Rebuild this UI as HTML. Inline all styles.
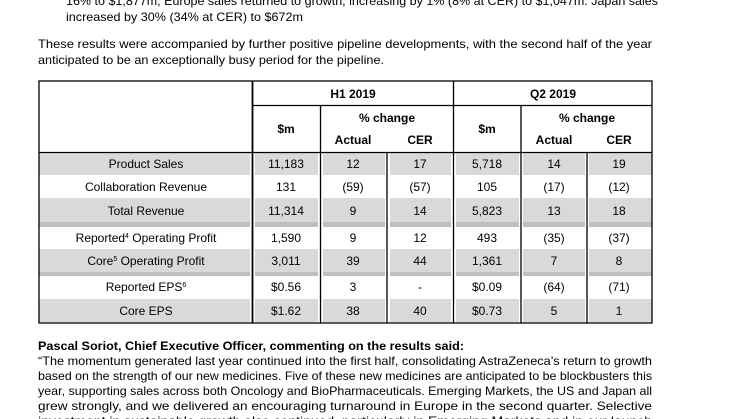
<!DOCTYPE html>
<html><head><meta charset="utf-8"><style>
html,body{margin:0;padding:0;background:#fff;}
svg{display:block;font-family:"Liberation Sans",Arial,sans-serif;}
</style></head><body>
<svg width="746" height="419" viewBox="0 0 746 419" xmlns="http://www.w3.org/2000/svg">
<g font-size="12" fill="#000">
<text x="66" y="5" textLength="592" lengthAdjust="spacingAndGlyphs">16% to $1,877m; Europe sales returned to growth, increasing by 1% (8% at CER) to $1,047m. Japan sales</text>
<text x="66" y="21" textLength="237" lengthAdjust="spacingAndGlyphs">increased by 30% (34% at CER) to $672m</text>
<text x="38" y="48" textLength="614" lengthAdjust="spacingAndGlyphs">These results were accompanied by further positive pipeline developments, with the second half of the year</text>
<text x="38" y="64" textLength="346" lengthAdjust="spacingAndGlyphs">anticipated to be an exceptionally busy period for the pipeline.</text>
<text x="38" y="350" font-weight="bold" textLength="426" lengthAdjust="spacingAndGlyphs">Pascal Soriot, Chief Executive Officer, commenting on the results said:</text>
<text x="38" y="365" textLength="614" lengthAdjust="spacingAndGlyphs">“The momentum generated last year continued into the first half, consolidating AstraZeneca’s return to growth</text>
<text x="38" y="380" textLength="614" lengthAdjust="spacingAndGlyphs">based on the strength of our new medicines. Five of these new medicines are anticipated to be blockbusters this</text>
<text x="38" y="395" textLength="614" lengthAdjust="spacingAndGlyphs">year, supporting sales across both Oncology and BioPharmaceuticals. Emerging Markets, the US and Japan all</text>
<text x="38" y="410" textLength="614" lengthAdjust="spacingAndGlyphs">grew strongly, and we delivered an encouraging turnaround in Europe in the second quarter. Selective</text>
<text x="38" y="425" textLength="614" lengthAdjust="spacingAndGlyphs">investment in sustainable growth also continued, particularly in Emerging Markets and in our launch</text>
</g>
<g fill="#d9d9d9">
<rect x="39" y="153" width="613" height="22"/>
<rect x="39" y="198" width="613" height="24"/>
<rect x="39" y="249" width="613" height="23"/>
<rect x="39" y="299" width="613" height="23"/>
</g>
<g fill="#bfbfbf">
<rect x="39" y="222" width="613" height="5"/>
<rect x="39" y="272" width="613" height="4"/>
</g>
<g fill="#fff">
<rect x="250" y="153" width="5" height="169"/>
<rect x="318" y="153" width="5" height="169"/>
<rect x="385" y="153" width="5" height="169"/>
<rect x="451" y="153" width="5" height="169"/>
<rect x="519" y="153" width="4" height="169"/>
<rect x="585" y="153" width="4" height="169"/>
</g>
<g stroke="#000" stroke-width="1.3" fill="none">
<rect x="39" y="81" width="613" height="242"/>
<line x1="39" y1="152.5" x2="652" y2="152.5"/>
<line x1="252.5" y1="105.5" x2="652" y2="105.5"/>
<line x1="252.5" y1="81" x2="252.5" y2="323" stroke-width="1.8"/>
<line x1="320.5" y1="105" x2="320.5" y2="323"/>
<line x1="387" y1="152" x2="387" y2="323"/>
<line x1="453.5" y1="81" x2="453.5" y2="323"/>
<line x1="521" y1="105" x2="521" y2="323"/>
<line x1="587" y1="152" x2="587" y2="323"/>
</g>
<g font-size="12" text-anchor="middle" fill="#000">
<g font-weight="bold">
<text x="353" y="98">H1 2019</text>
<text x="553" y="98">Q2 2019</text>
<text x="387" y="122">% change</text>
<text x="587" y="122">% change</text>
<text x="286" y="133">$m</text>
<text x="487" y="133">$m</text>
<text x="353" y="144">Actual</text>
<text x="420" y="144">CER</text>
<text x="554" y="144">Actual</text>
<text x="619" y="144">CER</text>
</g>
<g>
<text x="146" y="168">Product Sales</text><text x="286" y="168">11,183</text><text x="353" y="168">12</text><text x="420" y="168">17</text><text x="487" y="168">5,718</text><text x="554" y="168">14</text><text x="619" y="168">19</text>
<text x="146" y="191">Collaboration Revenue</text><text x="286" y="191">131</text><text x="353" y="191">(59)</text><text x="420" y="191">(57)</text><text x="487" y="191">105</text><text x="554" y="191">(17)</text><text x="619" y="191">(12)</text>
<text x="146" y="215">Total Revenue</text><text x="286" y="215">11,314</text><text x="353" y="215">9</text><text x="420" y="215">14</text><text x="487" y="215">5,823</text><text x="554" y="215">13</text><text x="619" y="215">18</text>
<text x="146" y="242">Reported<tspan font-size="7" dy="-4">4</tspan><tspan dy="4"> Operating Profit</tspan></text><text x="286" y="242">1,590</text><text x="353" y="242">9</text><text x="420" y="242">12</text><text x="487" y="242">493</text><text x="554" y="242">(35)</text><text x="619" y="242">(37)</text>
<text x="146" y="265">Core<tspan font-size="7" dy="-4">5</tspan><tspan dy="4"> Operating Profit</tspan></text><text x="286" y="265">3,011</text><text x="353" y="265">39</text><text x="420" y="265">44</text><text x="487" y="265">1,361</text><text x="554" y="265">7</text><text x="619" y="265">8</text>
<text x="146" y="291">Reported EPS<tspan font-size="7" dy="-4">6</tspan></text><text x="286" y="291">$0.56</text><text x="353" y="291">3</text><text x="420" y="291">-</text><text x="487" y="291">$0.09</text><text x="554" y="291">(64)</text><text x="619" y="291">(71)</text>
<text x="146" y="315">Core EPS</text><text x="286" y="315">$1.62</text><text x="353" y="315">38</text><text x="420" y="315">40</text><text x="487" y="315">$0.73</text><text x="554" y="315">5</text><text x="619" y="315">1</text>
</g>
</g>
</svg>
</body></html>
